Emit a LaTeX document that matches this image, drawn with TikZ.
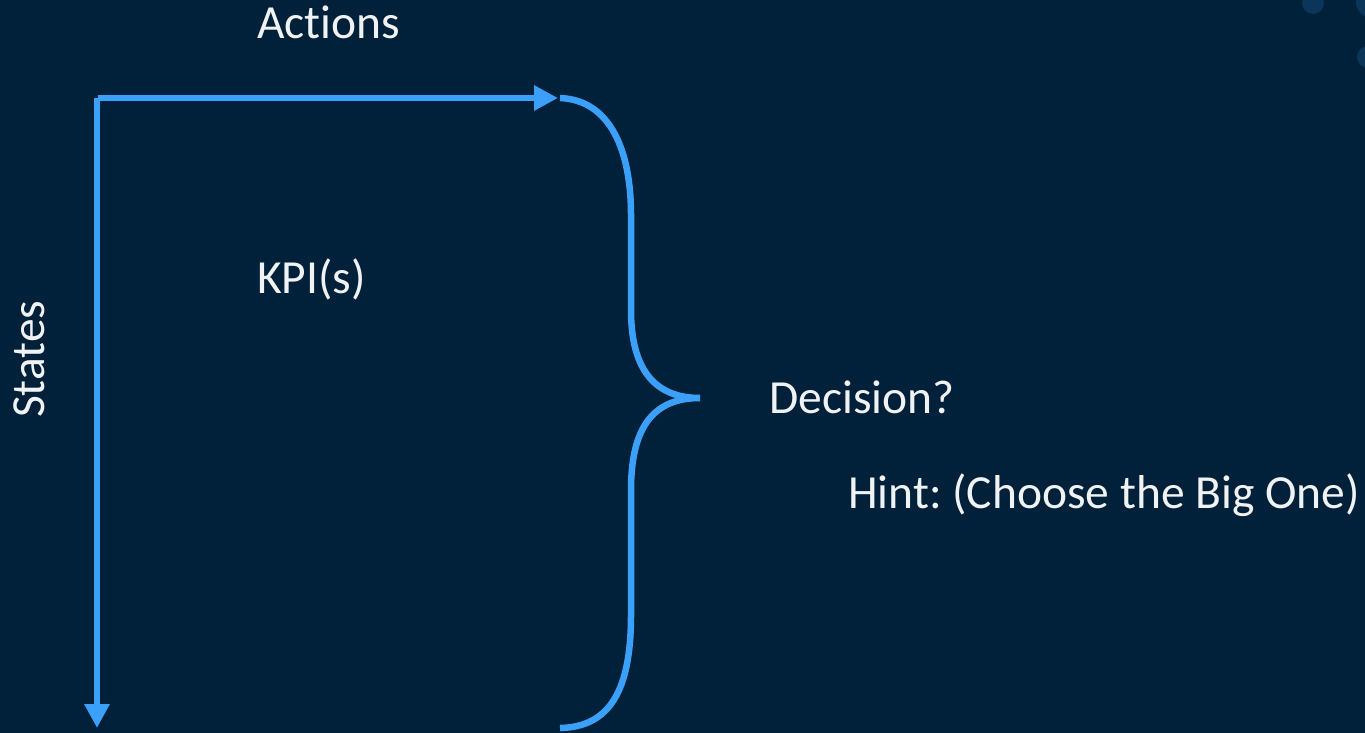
\documentclass[tikz,border=0pt]{standalone}
\usepackage{fontspec}
\setmainfont[Ligatures={NoCommon}]{Carlito}
\usetikzlibrary{arrows.meta}
\definecolor{bg}{HTML}{012039}
\definecolor{lineblue}{HTML}{3AA0FA}
\definecolor{dotc}{HTML}{0B3659}
\definecolor{txt}{HTML}{F0F2F4}
\frenchspacing
\tikzset{
  lbl/.style={text=txt, font=\fontsize{47.5}{52}\selectfont, inner sep=0pt, anchor=base west},
  axis/.style={draw=lineblue, line width=6.5pt, -{Triangle[length=24pt,width=24pt]}},
  bracestyle/.style={draw=lineblue, line width=6.5pt, line join=miter}
}
\begin{document}
\begin{tikzpicture}[x=1pt,y=-1pt]
\fill[bg] (0,0) rectangle (1365,733);
\useasboundingbox (0,0) rectangle (1365,733);
\fill[dotc] (1313,3) circle (11);
\fill[dotc] (1372,2) circle (16);
\fill[dotc] (1368,57) circle (11);
\coordinate (corner) at (97,98);
\coordinate (hstart) at (98,98);
\coordinate (aend) at (558,98);
\coordinate (send) at (97,728);
\draw[axis] (hstart) -- (aend);
\draw[axis] (corner) -- (send);
\coordinate (btop) at (560,98);
\coordinate (btip) at (700,398);
\coordinate (bbot) at (560,728);
\draw[bracestyle] (btop) .. controls (610,100) and (631,150) .. (631,215) -- (631,310)
  .. controls (631,370) and (655,398) .. (btip)
  .. controls (655,398) and (631,425) .. (631,490) -- (631,615)
  .. controls (631,690) and (610,727) .. (bbot);
\node[lbl] (actions) at (257,39) {Actions};
\node[lbl] (kpi) at (257,293) {KPI(s)};
\node[lbl, rotate=90] (states) at (44,418) {States};
\node[lbl] (decision) at (769,413) {Decision?};
\node[lbl] (hint) at (848,508) {Hint: (Choose the Big One)};
\end{tikzpicture}
\end{document}
